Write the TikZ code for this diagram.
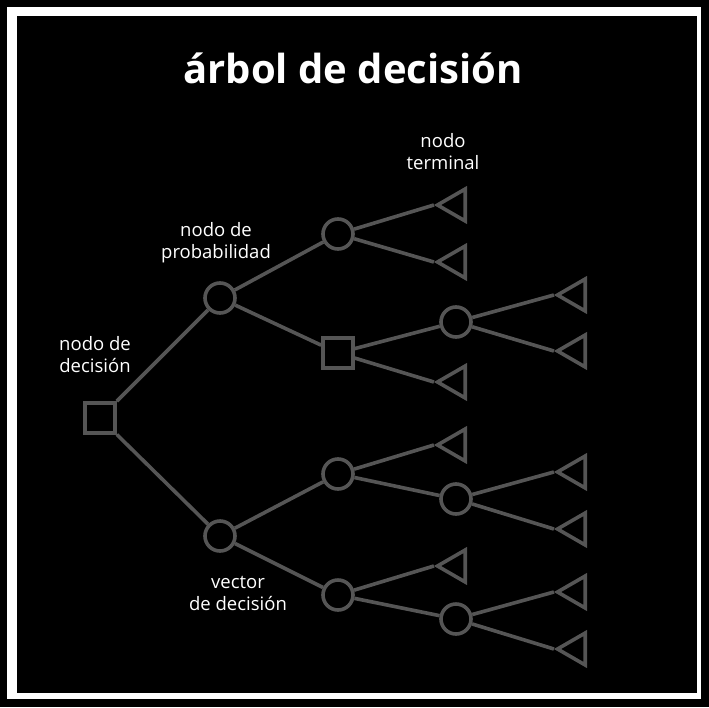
\documentclass[tikz,border=0pt]{standalone}
\usepackage{fontspec}
\setmainfont{Open Sans}
\usepackage{tikz}
\usetikzlibrary{shapes.geometric}
\definecolor{line_gray}{HTML}{555555}

\begin{document}
\begin{tikzpicture}[x=1pt,y=-1pt,
    branch/.style={line_gray, line width=3.6pt},
    decision/.style={draw=line_gray, line width=3.6pt, rectangle, minimum size=30pt, inner sep=0pt},
    chance/.style={draw=line_gray, line width=3.6pt, circle, minimum size=30pt, inner sep=0pt},
    terminal/.style={draw=line_gray, line width=3.6pt, regular polygon, regular polygon sides=3, shape border rotate=90, minimum size=37pt, inner sep=0pt},
    label/.style={white, align=center, font=\fontsize{18.5}{22}\selectfont}]
    \fill[black] (0,0) rectangle (709,707);
    \fill[white] (7,7) rectangle (701,699);
    \fill[black] (17,16) rectangle (697,693);
    \node[white, font=\fontsize{40}{44}\bfseries] (title) at (353,68) {árbol de decisión};
    \node[decision] (d0) at (100,418) {};
    \node[chance] (c1) at (220,298) {};
    \node[chance] (c2) at (220,536) {};
    \node[chance] (c11) at (338,234) {};
    \node[decision] (d12) at (338,353) {};
    \node[chance] (c21) at (338,474) {};
    \node[chance] (c22) at (338,595) {};
    \node[chance] (c121) at (456,322) {};
    \node[chance] (c211) at (456,499) {};
    \node[chance] (c221) at (456,619) {};
    \node[terminal] (t1) at (456,205) {};
    \node[terminal] (t2) at (456,262) {};
    \node[terminal] (t3) at (576,295) {};
    \node[terminal] (t4) at (576,351) {};
    \node[terminal] (t5) at (456,382) {};
    \node[terminal] (t6) at (456,445) {};
    \node[terminal] (t7) at (576,472) {};
    \node[terminal] (t8) at (576,529) {};
    \node[terminal] (t9) at (456,566) {};
    \node[terminal] (t10) at (576,592) {};
    \node[terminal] (t11) at (576,649) {};
    \draw[branch] (d0) -- (c1);
    \draw[branch] (d0) -- (c2);
    \draw[branch] (c1) -- (c11);
    \draw[branch] (c1) -- (d12);
    \draw[branch] (c2) -- (c21);
    \draw[branch] (c2) -- (c22);
    \draw[branch] (c11) -- (t1.corner 1);
    \draw[branch] (c11) -- (t2.corner 1);
    \draw[branch] (d12) -- (c121);
    \draw[branch] (d12) -- (t5.corner 1);
    \draw[branch] (c121) -- (t3.corner 1);
    \draw[branch] (c121) -- (t4.corner 1);
    \draw[branch] (c21) -- (t6.corner 1);
    \draw[branch] (c21) -- (c211);
    \draw[branch] (c211) -- (t7.corner 1);
    \draw[branch] (c211) -- (t8.corner 1);
    \draw[branch] (c22) -- (t9.corner 1);
    \draw[branch] (c22) -- (c221);
    \draw[branch] (c221) -- (t10.corner 1);
    \draw[branch] (c221) -- (t11.corner 1);
    \node[label] (lterm) at (443,152) {nodo\\terminal};
    \node[label] (lprob) at (216,243) {nodo de\\probabilidad};
    \node[label] (ldec) at (95,355) {nodo de\\decisión};
    \node[label] (lvec) at (238,593) {vector\\de decisión};
\end{tikzpicture}
\end{document}
